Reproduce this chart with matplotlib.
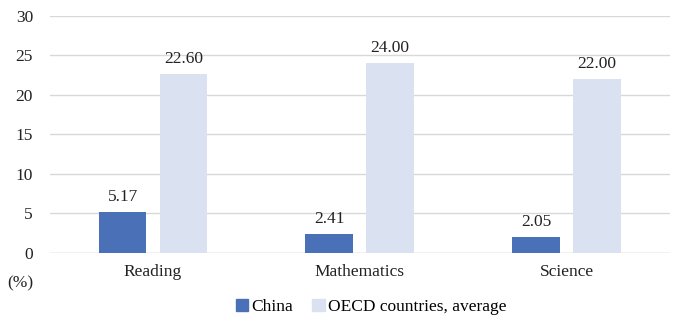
import numpy as np
import matplotlib.pyplot as plt
from matplotlib.patches import Patch

plt.rcParams['font.family'] = ['Liberation Serif', 'DejaVu Serif']

# Data
categories = ['Reading', 'Mathematics', 'Science']
china = [5.17, 2.41, 2.05]
oecd = [22.60, 24.00, 22.00]

china_color = '#4a70b8'
oecd_color = '#dae1f1'

fig = plt.figure(figsize=(6.8, 3.2), dpi=100)
ax = fig.add_axes([0.073, 0.21, 0.912, 0.74])

x = np.arange(len(categories))
w = 0.231
off = 0.147

b1 = ax.bar(x - off, china, w, color=china_color, zorder=3)
b2 = ax.bar(x + off, oecd, w, color=oecd_color, zorder=3)

for bars in (b1, b2):
    for rect in bars:
        h = rect.get_height()
        ax.annotate(f'{h:.2f}', (rect.get_x() + rect.get_width() / 2, h),
                    xytext=(0, 5), textcoords='offset points',
                    ha='center', va='bottom', fontsize=12.5, color='#222222')

ax.set_xlim(-0.5, 2.5)
ax.set_ylim(0, 30)
ax.set_yticks(range(0, 31, 5))
ax.set_xticks(x)
ax.set_xticklabels(categories)
ax.tick_params(axis='both', length=0, labelsize=12.5, colors='#222222')
ax.tick_params(axis='x', pad=8)
ax.tick_params(axis='y', pad=12)
ax.grid(axis='y', color='#d9d9d9', linewidth=1, zorder=0)
for s in ax.spines.values():
    s.set_visible(False)
ax.axhline(0, color='#d9d9d9', linewidth=1, zorder=2)

fig.text(0.01, 0.115, '(%)', fontsize=12.5, color='#222222', va='center')

handles = [Patch(color=china_color, label='China'),
           Patch(color=oecd_color, label='OECD countries, average')]
fig.legend(handles=handles, loc='center', bbox_to_anchor=(0.546, 0.04), ncol=2,
           frameon=False, fontsize=12.5, handlelength=0.7, handleheight=0.7,
           handletextpad=0.2, columnspacing=1.1)

fig.savefig('out.png', dpi=100)
